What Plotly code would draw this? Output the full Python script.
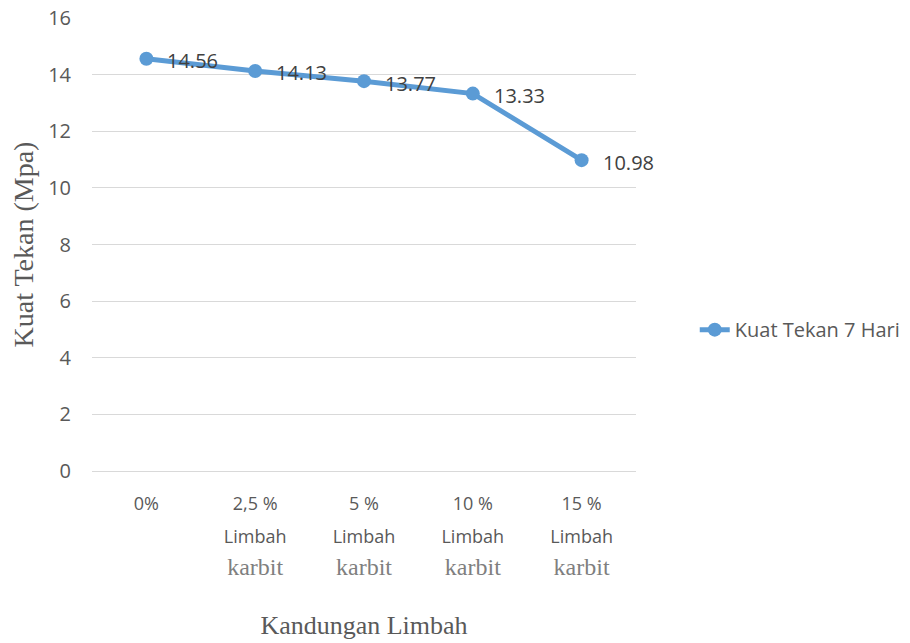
import plotly.graph_objects as go

categories = ["0%", "2,5 %", "5 %", "10 %", "15 %"]
cat_line2 = ["", "Limbah", "Limbah", "Limbah", "Limbah"]
cat_line3 = ["", "karbit", "karbit", "karbit", "karbit"]
values = [14.56, 14.13, 13.77, 13.33, 10.98]
series_name = "Kuat Tekan 7 Hari"
y_ticks = [0, 2, 4, 6, 8, 10, 12, 14, 16]

SANS = "Open Sans, Noto Sans, sans-serif"
SERIF = "Liberation Serif, Times New Roman, serif"

ticktext = []
for a, b, c in zip(categories, cat_line2, cat_line3):
    parts = [f"<span style='font-family:{SANS};font-size:18px;fill:#595959'>{a}</span>"]
    if b:
        parts.append(f"<span style='font-family:{SANS};font-size:18px;fill:#595959'>{b}</span>")
    if c:
        parts.append(f"<span style='font-family:{SERIF};font-size:24px;fill:#7f7f7f'>{c}</span>")
    ticktext.append("<br>".join(parts))

xs = list(range(len(categories)))

fig = go.Figure()
fig.add_trace(go.Scatter(
    x=xs, y=values, name=series_name,
    mode="lines+markers",
    line=dict(color="#5B9BD5", width=5),
    marker=dict(color="#5B9BD5", size=14),
    cliponaxis=False,
))

for x, v in zip(xs, values):
    fig.add_annotation(x=x, y=v, xref="x", yref="y", text=f"{v:.2f}",
                       showarrow=False, xanchor="left", yanchor="middle",
                       xshift=19, yshift=-2,
                       font=dict(family=SANS, size=20, color="#404040"))

fig.update_layout(
    width=910, height=643,
    margin=dict(l=92, r=274, t=18, b=172, autoexpand=False),
    paper_bgcolor="white", plot_bgcolor="white",
    showlegend=True,
    legend=dict(x=1.108, y=0.312, xanchor="left", yanchor="middle",
                font=dict(family=SANS, size=20, color="#595959"),
                bgcolor="rgba(0,0,0,0)"),
    xaxis=dict(
        tickmode="array", tickvals=xs, ticktext=ticktext,
        range=[-0.5, 4.5], showgrid=False, zeroline=False, showline=False,
        ticks="", tickfont=dict(family=SANS, size=25, color="#595959"),
        tickangle=0, ticklabelstandoff=13, automargin=False,
        title=dict(text="Kandungan Limbah", font=dict(family=SERIF, size=26, color="#595959"),
                   standoff=36),
    ),
    yaxis=dict(
        range=[0, 16], tickvals=y_ticks, showgrid=True, gridcolor="#D9D9D9", gridwidth=1,
        zeroline=True, zerolinecolor="#D9D9D9", zerolinewidth=1, showline=False,
        ticks="", ticklabelstandoff=20, automargin=False,
        tickfont=dict(family=SANS, size=20, color="#595959"),
        title=dict(text="Kuat Tekan (Mpa)", font=dict(family=SERIF, size=28, color="#595959"),
                   standoff=6),
    ),
)

fig.write_html("out.html")
